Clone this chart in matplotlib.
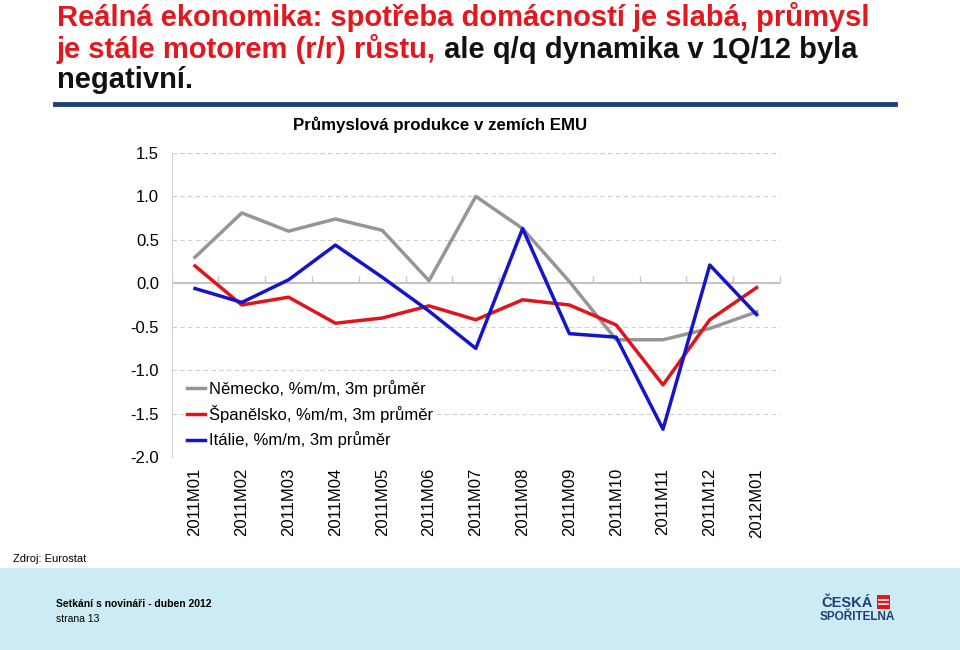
import matplotlib
matplotlib.use("Agg")
import matplotlib.pyplot as plt
from matplotlib.patches import Rectangle
import numpy as np

plt.rcParams['font.family'] = ['Liberation Sans', 'DejaVu Sans']

# data
months = ['2011M01', '2011M02', '2011M03', '2011M04', '2011M05', '2011M06',
          '2011M07', '2011M08', '2011M09', '2011M10', '2011M11', '2011M12',
          '2012M01']
nemecko = [0.30, 0.81, 0.60, 0.74, 0.61, 0.03, 1.00, 0.63, 0.02, -0.65,
           -0.65, -0.52, -0.33]
spanelsko = [0.20, -0.25, -0.16, -0.46, -0.40, -0.26, -0.42, -0.19, -0.25,
             -0.48, -1.17, -0.42, -0.05]
italie = [-0.06, -0.22, 0.04, 0.44, 0.07, -0.32, -0.75, 0.63, -0.58,
          -0.62, -1.68, 0.21, -0.36]
labels = ['Německo, %m/m, 3m průměr', 'Španělsko, %m/m, 3m průměr',
          'Itálie, %m/m, 3m průměr']
y_ticks = [1.5, 1.0, 0.5, 0.0, -0.5, -1.0, -1.5, -2.0]

RED = '#E3171E'
NAVY = '#1D3F7A'

W, H = 960, 650
fig = plt.figure(figsize=(9.6, 6.5), dpi=100)

# titulek slidu
TS = 21
fig.text(57 / W, 1 - 26 / H, 'Reálná ekonomika: spotřeba domácností je slabá, průmysl',
         color=RED, fontsize=TS, fontweight='bold', va='baseline')
t2 = fig.text(57 / W, 1 - 58 / H, 'je stále motorem (r/r) růstu,',
              color=RED, fontsize=TS, fontweight='bold', va='baseline')
fig.canvas.draw()
bb = t2.get_window_extent(fig.canvas.get_renderer())
fig.text(bb.x1 / W, 1 - 58 / H, ' ale q/q dynamika v 1Q/12 byla',
         color='#111111', fontsize=TS, fontweight='bold', va='baseline')
fig.text(57 / W, 1 - 88 / H, 'negativní.', color='#111111', fontsize=TS,
         fontweight='bold', va='baseline')

# modra linka pod titulkem
fig.add_artist(plt.Line2D([55 / W, 895 / W], [1 - 104 / H, 1 - 104 / H],
                          color=NAVY, lw=3.5))

# graf
ax = fig.add_axes([171.6 / W, 1 - 457 / H, (780 - 171.6) / W, (457 - 153) / H])
x = np.arange(len(months))
ax.plot(x, nemecko, color='#969696', lw=2.5, label=labels[0])
ax.plot(x, spanelsko, color='#E0141B', lw=2.5, label=labels[1])
ax.plot(x, italie, color='#1414C8', lw=2.5, label=labels[2])

ax.set_xlim(-0.5, len(months) - 0.5)
ax.set_ylim(-2.0, 1.5)
ax.set_yticks(y_ticks)
ax.set_yticklabels([f'{v:.1f}' for v in y_ticks])
ax.set_xticks(x)
ax.set_xticklabels(months, rotation=90)
ax.tick_params(axis='x', length=0, pad=8, labelsize=12)
ax.tick_params(axis='y', length=0, pad=9, labelsize=12)

for v in y_ticks:
    if v != 0:
        ax.axhline(v, color='#CFCFCF', lw=0.8, ls=(0, (4, 3)), zorder=0)
ax.axhline(0, color='#C4C4C4', lw=1.5, zorder=0)
# drobne carky na nulove ose mezi kategoriemi (jen nahoru)
bounds = np.arange(len(months) + 1) - 0.5
ax.plot(bounds, np.zeros_like(bounds), ls='none', marker=[(0, 0), (0, 1)],
        ms=10, mew=1.0, color='#C4C4C4', zorder=0)

for s in ['top', 'right', 'bottom']:
    ax.spines[s].set_visible(False)
ax.spines['left'].set_color('#D0D0D0')

leg = ax.legend(loc='upper left', bbox_to_anchor=(0.02, 0.265), frameon=True,
                fontsize=12, handlelength=1.05, handletextpad=0.25,
                labelspacing=0.5, borderpad=0.2, borderaxespad=0)
leg.get_frame().set_facecolor('white')
leg.get_frame().set_edgecolor('none')
leg.get_frame().set_alpha(1)

fig.text(440 / W, 1 - 125 / H, 'Průmyslová produkce v zemích EMU',
         fontsize=12.2, fontweight='bold', ha='center', va='center')

fig.text(13 / W, 1 - 559 / H, 'Zdroj: Eurostat', fontsize=8, va='center')

# paticka
fig.add_artist(Rectangle((0, 0), 1, (H - 568) / H, transform=fig.transFigure,
                         facecolor='#CDEBF3', edgecolor='none', zorder=-1))
fig.text(56 / W, 1 - 604 / H, 'Setkání s novináři - duben 2012', fontsize=7.5,
         fontweight='bold', va='center')
fig.text(56 / W, 1 - 619 / H, 'strana 13', fontsize=7.5, va='center')
fig.text(821 / W, 1 - 603 / H, 'ČESKÁ', fontsize=10.5, fontweight='bold',
         color=NAVY, va='center')
fig.text(820 / W, 1 - 617 / H, 'SPOŘITELNA', fontsize=8.5, fontweight='bold',
         color=NAVY, va='center')
fig.add_artist(Rectangle((877 / W, 1 - 609 / H), 13 / W, 14 / H,
                         transform=fig.transFigure, facecolor=RED,
                         edgecolor='none'))
for yy in [600, 604]:
    fig.add_artist(plt.Line2D([879 / W, 888 / W], [1 - yy / H, 1 - yy / H],
                              color='white', lw=1.2))

fig.savefig('out.png', dpi=100)
